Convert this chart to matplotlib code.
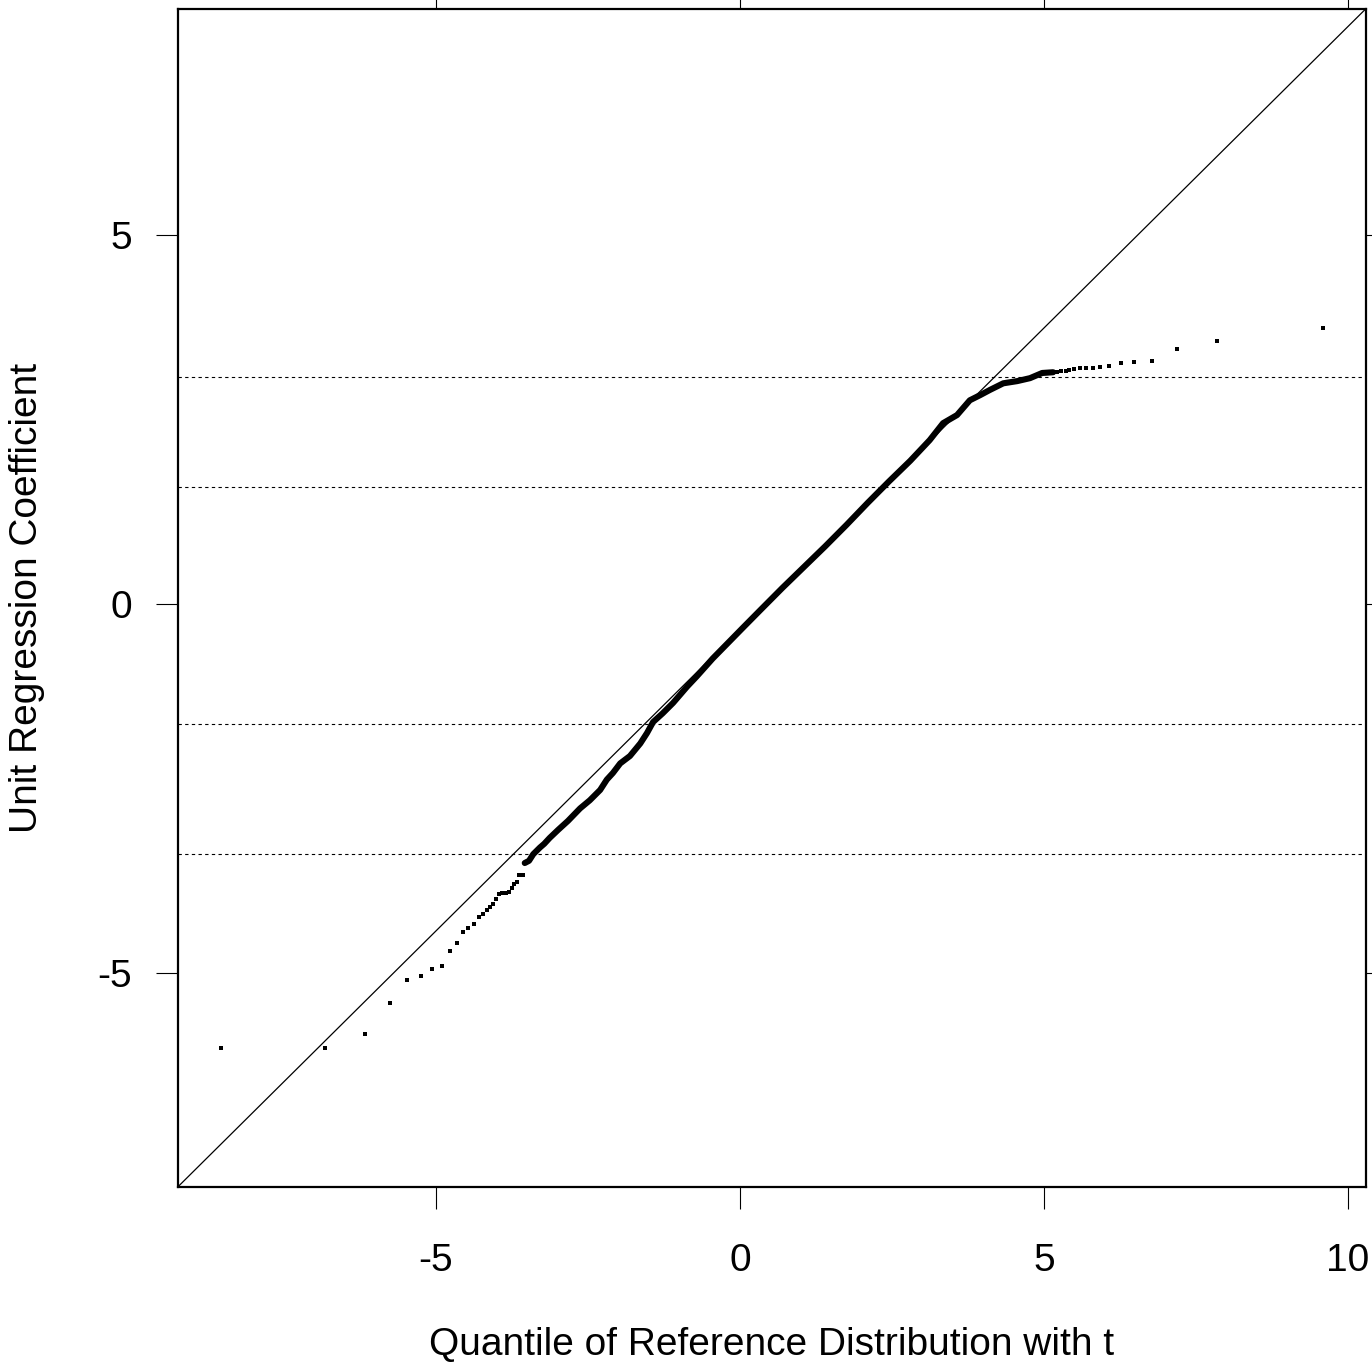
import matplotlib
matplotlib.use("Agg")
import matplotlib.pyplot as plt

plt.rcParams['font.family'] = ['Liberation Sans', 'DejaVu Sans']
plt.rcParams['axes.unicode_minus'] = False

# sparse lower tail (data units)
low_x = [-8.54, -6.83, -6.17, -5.76, -5.48, -5.25, -5.07, -4.90, -4.77, -4.65,
         -4.55, -4.47, -4.38, -4.30, -4.23, -4.16, -4.11, -4.06, -4.01, -3.96,
         -3.91, -3.85, -3.80, -3.75, -3.72, -3.67, -3.63, -3.57]
low_y = [-6.02, -6.02, -5.83, -5.41, -5.09, -5.04, -4.95, -4.90, -4.70, -4.59,
         -4.44, -4.39, -4.34, -4.24, -4.20, -4.15, -4.11, -4.07, -4.00, -3.93,
         -3.92, -3.92, -3.90, -3.85, -3.79, -3.77, -3.67, -3.67]

# dense body of the quantile curve
mid_x = [-3.54, -3.47, -3.40, -3.29, -3.22, -3.13, -2.99, -2.83, -2.63, -2.47,
         -2.30, -2.19, -2.09, -1.97, -1.81, -1.64, -1.53, -1.43, -1.27, -1.10,
         -0.87, -0.71, -0.45, -0.20, 0.05, 0.35, 0.70, 1.05, 1.40, 1.75,
         2.10, 2.45, 2.80, 3.12, 3.34, 3.57, 3.78, 3.95, 4.11, 4.33,
         4.56, 4.77, 4.97, 5.15]
mid_y = [-3.51, -3.48, -3.39, -3.30, -3.25, -3.17, -3.06, -2.94, -2.77, -2.66,
         -2.52, -2.38, -2.29, -2.16, -2.06, -1.89, -1.75, -1.60, -1.48, -1.34,
         -1.12, -0.98, -0.74, -0.53, -0.32, -0.07, 0.22, 0.50, 0.78, 1.07,
         1.37, 1.66, 1.94, 2.22, 2.45, 2.56, 2.76, 2.83, 2.90, 2.99,
         3.02, 3.06, 3.13, 3.14]

# sparse upper tail
up_x = [5.21, 5.28, 5.36, 5.41, 5.49, 5.59, 5.69, 5.81, 5.92, 6.07,
        6.27, 6.48, 6.78, 7.19, 7.85, 9.59]
up_y = [3.14, 3.16, 3.16, 3.17, 3.18, 3.20, 3.20, 3.20, 3.21, 3.22,
        3.27, 3.28, 3.29, 3.46, 3.56, 3.74]

# reference line and horizontal cut-offs
line_intercept = -0.345
line_slope = 0.817
hlines = [3.08, 1.59, -1.62, -3.39]

x_ticks = [-5, 0, 5, 10]
y_ticks = [-5, 0, 5]

fig = plt.figure(figsize=(13.72, 13.63), dpi=100)
ax = fig.add_axes([178 / 1372, 176 / 1363, 1188 / 1372, 1178 / 1363])

ax.axline((0, line_intercept), slope=line_slope, color='black', linewidth=0.9)
for h in hlines:
    ax.axhline(h, color='black', linewidth=0.8, linestyle=(0, (3, 3)))

ax.plot(mid_x, mid_y, color='black', linewidth=4.4, solid_capstyle='round',
        solid_joinstyle='round')
ax.plot(low_x, low_y, 's', color='black', markersize=3.2, markeredgewidth=0)
ax.plot(up_x, up_y, 's', color='black', markersize=3.2, markeredgewidth=0)

ax.set_xlim(-9.243, 10.296)
ax.set_ylim(-7.90, 8.062)
ax.set_xticks(x_ticks)
ax.set_yticks(y_ticks)
ax.tick_params(axis='both', direction='out', length=16, width=0.8,
               top=True, right=True, labelsize=28)
ax.tick_params(axis='x', pad=24)
ax.tick_params(axis='y', pad=17)
for s in ax.spines.values():
    s.set_linewidth(1.6)

ax.set_xlabel("Quantile of Reference Distribution with t", fontsize=28, labelpad=35)
ax.set_ylabel("Unit Regression Coefficient", fontsize=28, labelpad=38)

fig.savefig("out.png", dpi=100)
